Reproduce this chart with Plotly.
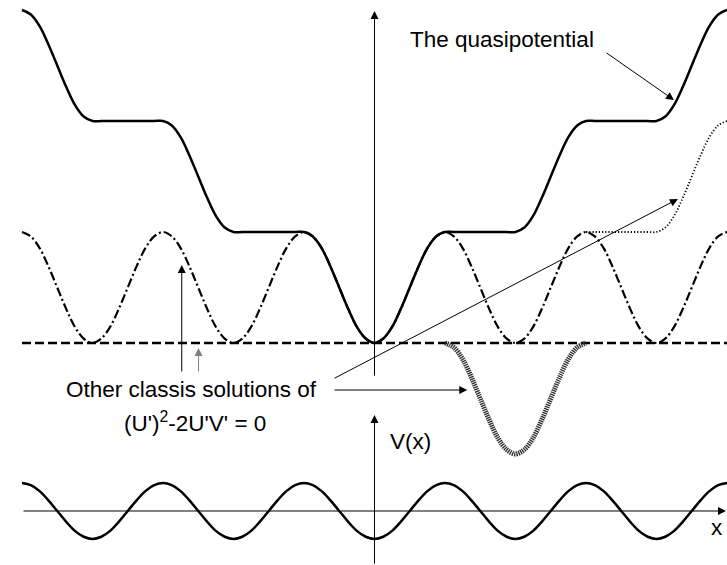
import numpy as np
import plotly.graph_objects as go

# Periodic potential V(x), one period sampled every 1/16 period, starting at a well bottom
V_PROFILE = [-1.0, -0.92, -0.71, -0.38, 0.0, 0.38, 0.71, 0.92,
             1.0, 0.92, 0.71, 0.38, 0.0, -0.38, -0.71, -0.92]
SAMPLES_PER_PERIOD = 16
HALF_SPAN_PERIODS = 2.5          # x runs from -2.5 to +2.5 periods
DOTTED_START = 1.5               # x where the dotted branch leaves the dash-dot curve
WELL_SOLUTION_SPAN = (0.5, 1.5)  # x span of the negative (chain) solution

# Text labels
LABEL_QUASI = "The quasipotential"
LABEL_OTHER_1 = "Other classis solutions of"
LABEL_OTHER_2 = "(U')<sup>2</sup>-2U'V' = 0"
LABEL_V = "V(x)"
LABEL_X = "x"

# ---- grid and potential ---------------------------------------------------
n_half = int(HALF_SPAN_PERIODS * SAMPLES_PER_PERIOD)
k = np.arange(-n_half, n_half + 1)
x = k / SAMPLES_PER_PERIOD
V = np.array([V_PROFILE[i % SAMPLES_PER_PERIOD] for i in k])
i0 = n_half  # index of x = 0


def climb(vals, start=0.0):
    """U' = 2V' where V rises, U' = 0 where V falls."""
    out = [start]
    for a, b in zip(vals[:-1], vals[1:]):
        out.append(out[-1] + 2.0 * max(b - a, 0.0))
    return out


# quasipotential: climbs out of the central well in both directions
right = climb(V[i0:])
left = climb(V[i0::-1])[::-1]
U_quasi = np.array(left[:-1] + right)

# U = 2(V - Vmin): the dash-dot family
U_dashdot = 2.0 * (V - V.min())

# dotted branch
j0 = i0 + int(DOTTED_START * SAMPLES_PER_PERIOD)
U_dot = np.array(climb(V[j0:], start=U_dashdot[j0]))
x_dot = x[j0:]

# negative solution U = 2(V - Vmax) in one well
a = i0 + int(WELL_SOLUTION_SPAN[0] * SAMPLES_PER_PERIOD)
b = i0 + int(WELL_SOLUTION_SPAN[1] * SAMPLES_PER_PERIOD)
x_well = x[a:b + 1]
U_well = 2.0 * (V[a:b + 1] - V.max())

fig = go.Figure()

spline = dict(shape="spline", smoothing=1.0)

fig.add_trace(go.Scatter(x=x, y=U_dashdot, mode="lines",
                         line=dict(color="black", width=2.2, dash="9px,3px,2px,3px", **spline)))
fig.add_trace(go.Scatter(x=[x[0], x[-1]], y=[0, 0], mode="lines",
                         line=dict(color="black", width=2.5, dash="9px,4px")))
fig.add_trace(go.Scatter(x=x_dot, y=U_dot, mode="lines",
                         line=dict(color="black", width=1.8, dash="1.2px,2px", **spline)))
fig.add_trace(go.Scatter(x=x, y=U_quasi, mode="lines",
                         line=dict(color="black", width=2.5, **spline)))
# chain-like negative solution
fig.add_trace(go.Scatter(x=x_well, y=U_well, mode="lines",
                         line=dict(color="#2a2a2a", width=5, dash="1.3px,0.9px", **spline)))

# lower panel: the potential itself
fig.add_trace(go.Scatter(x=x, y=V, mode="lines", yaxis="y2",
                         line=dict(color="black", width=2.5, **spline)))

FONT = dict(family="Liberation Sans, Arial, sans-serif", size=22.5, color="black")


def arrow(x_head, y_head, x_tail, y_tail, yref="y", color="black"):
    return dict(x=x_head, y=y_head, ax=x_tail, ay=y_tail,
                xref="x", yref=yref, axref="x", ayref=yref,
                showarrow=True, arrowhead=2, arrowsize=1.6, arrowwidth=1,
                arrowcolor=color, standoff=0, startstandoff=0, text="")


annotations = [
    # axes of the upper panel
    arrow(0, 11.96, 0, -1.23),
    # axes of the lower panel
    arrow(0, 3.43, 0, -1.93, yref="y2"),
    arrow(2.493, 0, -2.5, 0, yref="y2"),
    # pointers
    arrow(2.124, 8.757, 1.635, 10.49),
    arrow(-1.367, 2.81, -1.367, -1.08),
    arrow(-1.248, -0.18, -1.248, -1.08, color="#808080"),
    arrow(2.152, 5.19, -0.294, -1.297),
    arrow(0.658, -1.694, -0.294, -1.694),
    # texts
    dict(x=0.901, y=10.94, xref="x", yref="y", text=LABEL_QUASI, showarrow=False,
         xanchor="center", yanchor="middle", font=FONT),
    dict(x=-1.301, y=-1.672, xref="x", yref="y", text=LABEL_OTHER_1, showarrow=False,
         xanchor="center", yanchor="middle", font=FONT),
    dict(x=-1.27, y=-2.861, xref="x", yref="y", text=LABEL_OTHER_2, showarrow=False,
         xanchor="center", yanchor="middle", font=FONT),
    dict(x=0.252, y=2.48, xref="x", yref="y2", text=LABEL_V, showarrow=False,
         xanchor="center", yanchor="middle", font=FONT),
    dict(x=2.426, y=-0.586, xref="x", yref="y2", text=LABEL_X, showarrow=False,
         xanchor="center", yanchor="middle", font=FONT),
]

fig.update_layout(
    width=727, height=565,
    margin=dict(l=0, r=0, t=0, b=0),
    paper_bgcolor="white", plot_bgcolor="rgba(0,0,0,0)",
    showlegend=False,
    xaxis=dict(range=[-2.656, 2.5], visible=False, fixedrange=True),
    yaxis=dict(range=[-8.0, 12.36], domain=[0, 1], visible=False, fixedrange=True),
    yaxis2=dict(range=[-1.929, 4.125], domain=[0, 0.3], anchor="x",
                visible=False, fixedrange=True),
    annotations=annotations,
)

fig.write_html("out.html", config={"displayModeBar": False})
